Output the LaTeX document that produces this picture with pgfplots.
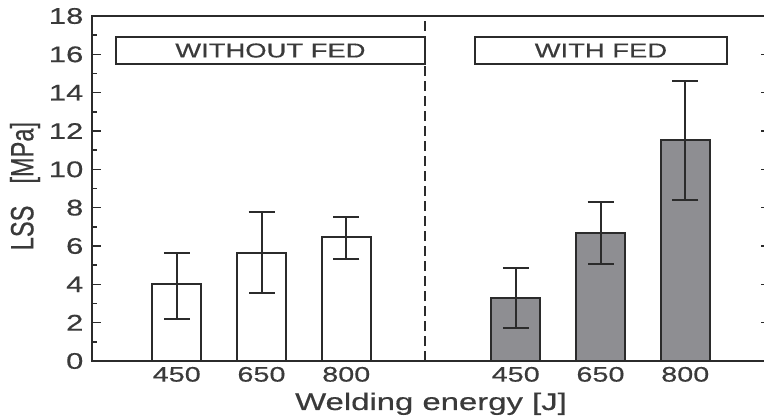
\documentclass[border=0pt]{standalone}
\usepackage{graphicx}
\usepackage{pgfplots}
\pgfplotsset{compat=1.18}
\usepackage{pgfplotstable}
\usepackage{fontspec}
\setmainfont{Liberation Sans}[FakeStretch=1.37, FakeBold=0.5]
\newfontfamily\plainsans{Liberation Sans}[FakeBold=0.5]

\definecolor{ink}{HTML}{2B2B2B}
\definecolor{txt}{HTML}{3A3A3A}
\definecolor{fedgray}{HTML}{8E8E92}

% position, LSS mean, upper and lower error
\pgfplotstableread{
x  y     ep    em
0  4.00  1.65  1.80
1  5.65  2.15  2.10
2  6.47  1.05  1.17
}\withoutfed
\pgfplotstableread{
x  y     ep    em
4  3.30  1.55  1.60
5  6.66  1.64  1.62
6  11.55 3.05  3.15
}\withfed

\begin{document}
\begin{tikzpicture}
\begin{axis}[
  x=42.375pt, y=9.583pt,
  xmin=-1, xmax=7, ymin=0, ymax=18,
  axis line style={ink, line width=0.8pt},
  xtick={0,1,2,4,5,6},
  xticklabels={450,650,800,450,650,800},
  xtick style={draw=none},
  ytick={0,2,...,18},
  minor y tick num=1,
  tick align=inside,
  major tick length=4.5pt,
  minor tick length=2.5pt,
  ytick style={ink, line width=0.7pt},
  /pgf/number format/assume math mode=true,
  xticklabel style={font=\fontsize{10.5}{12}\selectfont, text=txt, anchor=base, yshift=-10.3pt},
  yticklabel style={font=\fontsize{11.3}{13}\selectfont, text=txt, xshift=-0.8pt},
  xlabel={Welding energy [J]},
  ylabel={\scalebox{1}[1.37]{\plainsans LSS\hspace{11pt}[MPa]}},
  x label style={font=\fontsize{12}{14}\selectfont, text=txt,
    at={(axis description cs:0.5,-0.142)}, anchor=base},
  y label style={font=\fontsize{11.8}{14}\selectfont, text=txt,
    at={(axis description cs:-0.0988,0.507)}, anchor=center, rotate=0},
  clip=false,
]
\addplot[ybar, bar width=24.5pt, bar shift=0pt, draw=ink, line width=0.9pt, fill=white,
  error bars/.cd, y dir=both, y explicit,
  error bar style={ink, line width=1pt},
  error mark options={rotate=90, ink, line width=1pt, mark size=6.5pt}]
  table[x=x, y=y, y error plus=ep, y error minus=em] {\withoutfed};
\addplot[ybar, bar width=24.5pt, bar shift=0pt, draw=ink, line width=0.9pt, fill=fedgray,
  error bars/.cd, y dir=both, y explicit,
  error bar style={ink, line width=1pt},
  error mark options={rotate=90, ink, line width=1pt, mark size=6.5pt}]
  table[x=x, y=y, y error plus=ep, y error minus=em] {\withfed};

% separator between the two groups
\draw[ink, line width=0.9pt, dash pattern=on 5pt off 2.5pt] (axis cs:2.93,0) -- (axis cs:2.93,18);

% group captions
\draw[ink, line width=0.8pt, fill=white] (axis cs:-0.72,15.5) rectangle (axis cs:2.93,16.9);
\node[text=txt, font=\fontsize{10}{12}\selectfont] at (axis cs:1.105,16.2) {WITHOUT FED};
\draw[ink, line width=0.8pt, fill=white] (axis cs:3.52,15.5) rectangle (axis cs:6.49,16.9);
\node[text=txt, font=\fontsize{10}{12}\selectfont] at (axis cs:5.005,16.2) {WITH FED};
\end{axis}
\pgfresetboundingbox
\path[use as bounding box] ([shift={(-46pt,-28pt)}]current axis.south west) rectangle ++(382pt,208.5pt);
\end{tikzpicture}
\end{document}
